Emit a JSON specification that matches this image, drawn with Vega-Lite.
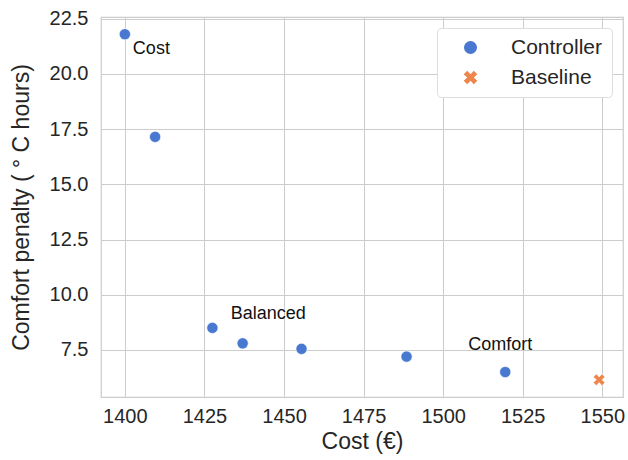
{
  "$schema": "https://vega.github.io/schema/vega-lite/v6.json",
  "autosize": "none",
  "width": 522,
  "height": 380,
  "padding": {"left": 101, "top": 17, "right": 5, "bottom": 63},
  "background": "white",
  "config": {
    "font": "Liberation Sans",
    "view": {"stroke": "#cccccc", "strokeWidth": 1.25},
    "axis": {
      "domain": false,
      "ticks": false,
      "gridColor": "#cccccc",
      "gridWidth": 1,
      "labelColor": "#262626",
      "titleColor": "#262626",
      "labelFontSize": 20,
      "titleFontSize": 23,
      "titleFontWeight": "normal"
    }
  },
  "data": {
    "values": [
      {"series": "Controller", "cost": 1400, "penalty": 21.8, "label": "Cost"},
      {"series": "Controller", "cost": 1409.5, "penalty": 17.15, "label": ""},
      {"series": "Controller", "cost": 1427.5, "penalty": 8.5, "label": ""},
      {"series": "Controller", "cost": 1437, "penalty": 7.8, "label": "Balanced"},
      {"series": "Controller", "cost": 1455.5, "penalty": 7.55, "label": ""},
      {"series": "Controller", "cost": 1488.5, "penalty": 7.2, "label": ""},
      {"series": "Controller", "cost": 1519.5, "penalty": 6.5, "label": "Comfort"},
      {"series": "Baseline", "cost": 1549, "penalty": 6.15, "label": ""}
    ]
  },
  "encoding": {
    "x": {
      "field": "cost", "type": "quantitative", "title": "Cost (€)",
      "scale": {"domain": [1392.5, 1556.5], "nice": false, "zero": false},
      "axis": {"values": [1400, 1425, 1450, 1475, 1500, 1525, 1550], "labelPadding": 9, "titlePadding": 4, "format": "d"}
    },
    "y": {
      "field": "penalty", "type": "quantitative", "title": "Comfort penalty ( ° C hours)",
      "scale": {"domain": [5.37, 22.58], "nice": false, "zero": false},
      "axis": {"values": [7.5, 10, 12.5, 15, 17.5, 20, 22.5], "format": ".1f", "labelPadding": 13, "titlePadding": 16}
    }
  },
  "layer": [
    {
      "mark": {"type": "point", "filled": true, "opacity": 1, "size": 125, "stroke": "white", "strokeWidth": 0.6},
      "encoding": {
        "color": {
          "field": "series", "type": "nominal",
          "scale": {"domain": ["Controller", "Baseline"], "range": ["#4878d0", "#ee854a"]},
          "legend": {
            "title": null, "orient": "top-right", "offset": 11,
            "labelFontSize": 21, "labelColor": "#262626",
            "symbolSize": 170, "labelOffset": 30, "symbolOffset": 14,
            "padding": 9, "rowPadding": 8,
            "strokeColor": "#dddddd", "fillColor": "white", "cornerRadius": 4,
            "symbolStrokeWidth": 0
          }
        },
        "shape": {
          "field": "series", "type": "nominal",
          "scale": {"domain": ["Controller", "Baseline"], "range": ["circle", "M-1.05,-0.5L-0.5,-1.05L0,-0.5L0.5,-1.05L1.05,-0.5L0.5,0L1.05,0.5L0.5,1.05L0,0.5L-0.5,1.05L-1.05,0.5L-0.5,0Z"]}
        }
      }
    },
    {
      "transform": [{"filter": "datum.label == 'Cost'"}],
      "mark": {"type": "text", "align": "left", "baseline": "middle", "dx": 8, "dy": 15, "fontSize": 18, "color": "#111111"},
      "encoding": {"text": {"field": "label"}}
    },
    {
      "transform": [{"filter": "datum.label == 'Balanced'"}],
      "mark": {"type": "text", "align": "left", "baseline": "middle", "dx": -12, "dy": -29, "fontSize": 18, "color": "#111111"},
      "encoding": {"text": {"field": "label"}}
    },
    {
      "transform": [{"filter": "datum.label == 'Comfort'"}],
      "mark": {"type": "text", "align": "left", "baseline": "middle", "dx": -37, "dy": -27, "fontSize": 18, "color": "#111111"},
      "encoding": {"text": {"field": "label"}}
    }
  ]
}
